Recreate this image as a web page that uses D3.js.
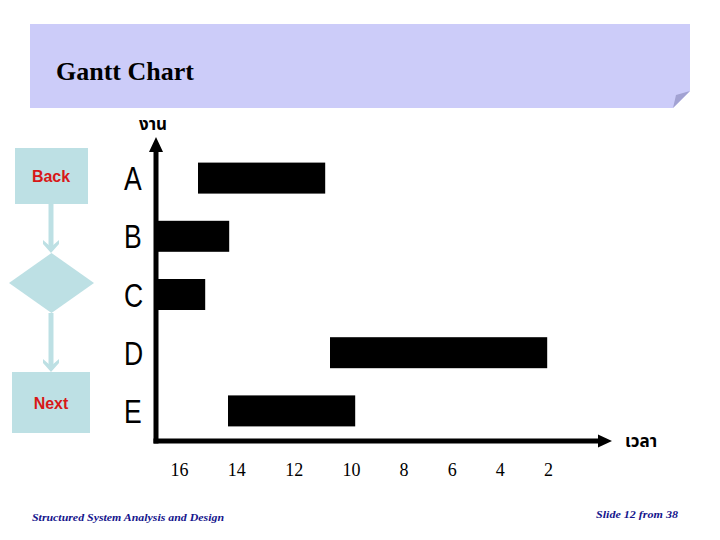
<!DOCTYPE html>
<html>
<head>
<meta charset="utf-8">
<script src="https://cdn.jsdelivr.net/npm/d3@7"></script>
<style>
  html, body { margin: 0; padding: 0; background: #ffffff; }
  svg { display: block; }
</style>
</head>
<body>
<svg id="chart" width="720" height="540"></svg>
<script>
// ---- data ----
const tasks = ["A", "B", "C", "D", "E"];
const taskStart = [1.75, 0, 0, 7.25, 3.0];
const taskEnd = [7.05, 3.05, 2.05, 16.3, 8.3];
const tickLabels = [16, 14, 12, 10, 8, 6, 4, 2];
const titleText = "Gantt Chart";
const yAxisTitle = "งาน";
const xAxisTitle = "เวลา";
const footerLeft = "Structured System Analysis and Design";
const footerRight = "Slide 12 from 38";
const navLabels = ["Back", "Next"];

const svg = d3.select("#chart");

// ---- header band ----
svg.append("path")
  .attr("d", "M30,24 L690,24 L690,91 L673,108 L30,108 Z")
  .attr("fill", "#ccccf9");
svg.append("path")
  .attr("d", "M673,108 L676,95 L690,91 Z")
  .attr("fill", "#a2a2d2");
svg.append("text")
  .attr("x", 56).attr("y", 80)
  .attr("font-family", "'Liberation Serif', 'Times New Roman', serif")
  .attr("font-weight", "bold")
  .attr("font-size", 26)
  .attr("fill", "#000000")
  .text(titleText);

// ---- navigation flow (left) ----
const navFill = "#bde0e4";
const nav = svg.append("g");
nav.append("rect").attr("x", 15).attr("y", 148).attr("width", 73).attr("height", 56).attr("fill", navFill);
nav.append("rect").attr("x", 12).attr("y", 372).attr("width", 78).attr("height", 61).attr("fill", navFill);
nav.append("path").attr("d", "M51.5,253 L94,283 L51.5,313 L9,283 Z").attr("fill", navFill);
// connectors
nav.append("line").attr("x1", 51).attr("x2", 51).attr("y1", 204).attr("y2", 248)
  .attr("stroke", navFill).attr("stroke-width", 5);
nav.append("path").attr("d", "M43,240 L51,247 L59,240 L59,244 L51,253 L43,244 Z").attr("fill", navFill);
nav.append("line").attr("x1", 51).attr("x2", 51).attr("y1", 313).attr("y2", 367)
  .attr("stroke", navFill).attr("stroke-width", 5);
nav.append("path").attr("d", "M43,359 L51,366 L59,359 L59,363 L51,372 L43,363 Z").attr("fill", navFill);
nav.selectAll("text.nav").data(navLabels).join("text")
  .attr("class", "nav")
  .attr("x", 51)
  .attr("y", (d, i) => i === 0 ? 182 : 409)
  .attr("text-anchor", "middle")
  .attr("font-family", "'Liberation Sans', Arial, sans-serif")
  .attr("font-weight", "bold")
  .attr("font-size", 16)
  .attr("fill", "#d81818")
  .text(d => d);

// ---- scales ----
const x = d3.scaleLinear().domain([0, 19]).range([156, 612]);
const xTick = d3.scaleLinear().domain([16, 10, 8, 2]).range([179, 351, 403.5, 548]);
const y = d3.scaleBand().domain(tasks).range([149, 440]).paddingInner(0.4674).paddingOuter(0.2337);

const rows = tasks.map((t, i) => ({ task: t, start: taskStart[i], end: taskEnd[i] }));

// ---- bars ----
svg.append("g").selectAll("rect").data(rows).join("rect")
  .attr("x", d => x(d.start))
  .attr("y", d => y(d.task))
  .attr("width", d => x(d.end) - x(d.start))
  .attr("height", y.bandwidth())
  .attr("fill", "#000000");

// ---- axes lines with arrows ----
const axisColor = "#000000";
svg.append("line").attr("x1", 156).attr("x2", 156).attr("y1", 443.5).attr("y2", 150)
  .attr("stroke", axisColor).attr("stroke-width", 5);
svg.append("path").attr("d", "M149,152 L156,137 L163,152 Z").attr("fill", axisColor);
svg.append("line").attr("x1", 153.5).attr("x2", 600).attr("y1", 441).attr("y2", 441)
  .attr("stroke", axisColor).attr("stroke-width", 5);
svg.append("path").attr("d", "M598,434.5 L612,441 L598,447.5 Z").attr("fill", axisColor);

// ---- y axis (task labels) ----
const yAxisG = svg.append("g").attr("transform", "translate(124,0)")
  .call(d3.axisLeft(y).tickSize(0).tickPadding(0));
yAxisG.select(".domain").remove();
yAxisG.selectAll(".tick text")
  .attr("x", 0).attr("dy", null)
  .attr("text-anchor", "start")
  .attr("font-family", "'Liberation Sans', Arial, sans-serif")
  .attr("font-size", 34)
  .attr("fill", "#000000")
  .attr("transform", "translate(0,12) scale(0.78,1)");

// ---- x axis (tick labels) ----
const xAxisG = svg.append("g").attr("transform", "translate(0,441)")
  .call(d3.axisBottom(xTick).tickValues(tickLabels).tickSize(0).tickFormat(d3.format("d")));
xAxisG.select(".domain").remove();
xAxisG.selectAll(".tick text")
  .attr("y", 35).attr("dy", null)
  .attr("font-family", "'Liberation Serif', 'Times New Roman', serif")
  .attr("font-size", 18)
  .attr("fill", "#000000");

// ---- axis titles (Thai) ----
svg.append("text")
  .attr("x", 153).attr("y", 130)
  .attr("text-anchor", "middle")
  .attr("font-family", "'Noto Sans Thai', 'Noto Sans', 'Noto Sans CJK SC', sans-serif")
  .attr("font-weight", "bold")
  .attr("font-size", 17)
  .attr("fill", "#000000")
  .text(yAxisTitle);
svg.append("text")
  .attr("x", 625).attr("y", 447)
  .attr("font-family", "'Noto Sans Thai', 'Noto Sans', 'Noto Sans CJK SC', sans-serif")
  .attr("font-weight", "bold")
  .attr("font-size", 17)
  .attr("fill", "#000000")
  .text(xAxisTitle);

// ---- footer ----
svg.append("text")
  .attr("x", 32).attr("y", 521)
  .attr("font-family", "'Liberation Serif', 'Times New Roman', serif")
  .attr("font-style", "italic").attr("font-weight", "bold")
  .attr("font-size", 11)
  .attr("textLength", 192).attr("lengthAdjust", "spacingAndGlyphs")
  .attr("fill", "#14148c")
  .text(footerLeft);
svg.append("text")
  .attr("x", 596).attr("y", 518)
  .attr("font-family", "'Liberation Serif', 'Times New Roman', serif")
  .attr("font-style", "italic").attr("font-weight", "bold")
  .attr("font-size", 11)
  .attr("textLength", 82).attr("lengthAdjust", "spacingAndGlyphs")
  .attr("fill", "#14148c")
  .text(footerRight);
</script>
</body>
</html>
